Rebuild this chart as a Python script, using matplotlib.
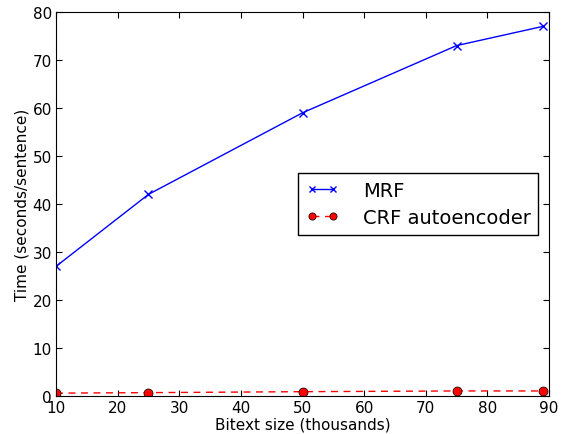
import matplotlib
matplotlib.use("Agg")
import matplotlib.pyplot as plt

bitext_size = [10, 25, 50, 75, 89]
mrf_time = [27, 42, 59, 73, 77]
crf_time = [0.6, 0.7, 0.9, 1.05, 1.05]

fig = plt.figure(figsize=(5.65, 4.35), dpi=100)
ax = fig.add_axes([56/565, 1-397/435, 493/565, 384/435])
ax.plot(bitext_size, mrf_time, color='blue', marker='x', linestyle='-', linewidth=1,
        markersize=6, markeredgewidth=1, label='MRF')
ax.plot(bitext_size, crf_time, color='red', marker='o', linestyle='--', linewidth=1,
        markersize=6.5, markeredgecolor='black', markeredgewidth=0.5, dashes=(5, 4),
        label='CRF autoencoder')
ax.set_xlim(10, 90)
ax.set_ylim(0, 80)
ax.set_xticks(range(10, 91, 10))
ax.set_yticks(range(0, 81, 10))
ax.tick_params(direction='in', top=True, right=True, labelsize=11, length=4, pad=3)
ax.set_xlabel('Bitext size (thousands)', fontsize=11, labelpad=1)
ax.set_ylabel('Time (seconds/sentence)', fontsize=11, labelpad=2)
leg = ax.legend(loc='center right', fontsize=14, fancybox=False, framealpha=1,
                edgecolor='black', borderaxespad=0.55, handlelength=1.7,
                handletextpad=1.2, numpoints=2, borderpad=0.4, labelspacing=0.4,
                markerscale=0.8)
leg.get_frame().set_linewidth(1)
fig.savefig('out.png', dpi=100)
